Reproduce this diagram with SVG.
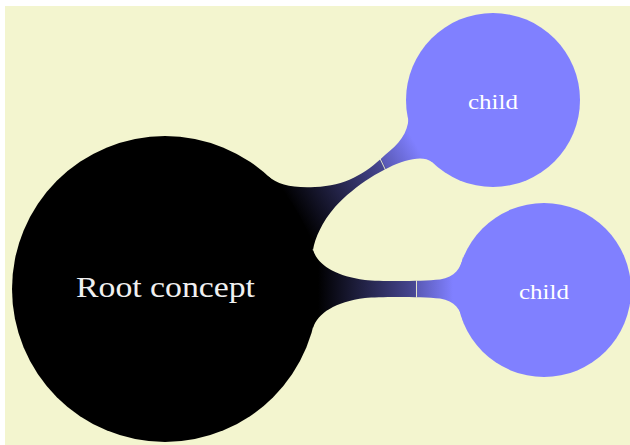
<svg xmlns="http://www.w3.org/2000/svg" width="630" height="445" viewBox="0 0 630 445">
  <style>
    .bg { fill: #F3F5CF; }
    .root { fill: #000000; }
    .child { fill: #8080FF; }
    .rootlabel { font-family: "Liberation Serif", "DejaVu Serif", serif; font-size: 30px; fill: #f0f0f0; text-anchor: middle; }
    .childlabel { font-family: "Liberation Serif", "DejaVu Serif", serif; font-size: 22px; fill: #ffffff; text-anchor: middle; }
    .seam { stroke: #F3F5CF; stroke-width: 0.9; fill: none; }
  </style>
  <defs>
    <linearGradient id="g1" gradientUnits="userSpaceOnUse" x1="165" y1="289" x2="493" y2="100">
      <stop offset="0.40" stop-color="#000000"/>
      <stop offset="0.662" stop-color="#484894"/>
      <stop offset="0.668" stop-color="#5a5ab6"/>
      <stop offset="0.765" stop-color="#8080FF"/>
    </linearGradient>
    <linearGradient id="g2" gradientUnits="userSpaceOnUse" x1="318" y1="0" x2="457" y2="0">
      <stop offset="0" stop-color="#000000"/>
      <stop offset="0.70" stop-color="#484894"/>
      <stop offset="0.712" stop-color="#5a5ab6"/>
      <stop offset="0.97" stop-color="#8080FF"/>
    </linearGradient>
  </defs>
  <rect class="bg" x="5" y="6" width="625" height="439"/>
  <g id="connectors">
    <path fill="url(#g1)" d="M 268,176 C 278,185 292,188 315,187 C 345,186 365,174 385,155 C 399,144 408,133 408.5,118 L 445,140 L 432,162 C 425,157 416,158 405,161 C 385,167 355,185 335,207 C 322,222 315,238 313,250 L 290,220 Z"/>
    <path fill="url(#g2)" d="M 313,250 C 318,265 335,276 365,280 C 380,281.5 420,281.5 440,279.5 C 455,277 461,268 463,257 L 490,289 L 463,321 C 461,310 455,301 440,298.5 C 420,296.5 380,296.5 365,298 C 335,302 318,313 313,328 L 290,289 Z"/>
    <line class="seam" x1="379.5" y1="157.5" x2="385.5" y2="170"/>
    <line class="seam" x1="416.5" y1="280.5" x2="416.5" y2="297.5"/>
  </g>
  <g id="root">
    <circle class="root" cx="165" cy="289" r="153"/>
    <text class="rootlabel" x="165.5" y="297" textLength="179" lengthAdjust="spacingAndGlyphs">Root concept</text>
  </g>
  <g id="child1">
    <circle class="child" cx="493" cy="100" r="87"/>
    <text class="childlabel" x="493" y="109" textLength="50" lengthAdjust="spacingAndGlyphs">child</text>
  </g>
  <g id="child2">
    <circle class="child" cx="544" cy="290" r="87"/>
    <text class="childlabel" x="544" y="299" textLength="50" lengthAdjust="spacingAndGlyphs">child</text>
  </g>
</svg>
